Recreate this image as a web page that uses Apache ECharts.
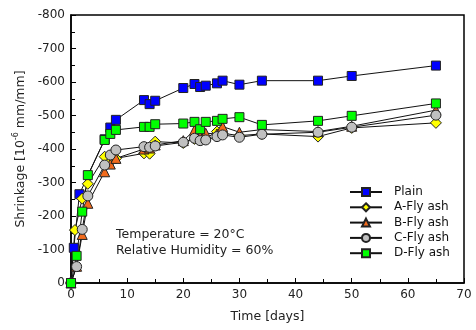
<!DOCTYPE html>
<html><head><meta charset="utf-8">
<script src="https://cdn.jsdelivr.net/npm/echarts@6/dist/echarts.min.js"></script>
<style>html,body{margin:0;padding:0;background:#fff}#c{width:476px;height:330px}</style>
</head><body><div id="c"></div>
<script>
const seriesNames = ['Plain', 'A-Fly ash', 'B-Fly ash', 'C-Fly ash', 'D-Fly ash'];
const plainDays = [0, 0.5, 1.5, 6, 7, 8, 13, 14, 15, 20, 22, 23, 24, 26, 27, 30, 34, 44, 50, 65];
const plainVals = [0, -105, -265, -429, -464, -487, -546, -534, -544, -582, -594, -585, -589, -596, -604, -592, -604, -604, -618, -649];
const ashDays = [0, 1, 2, 3, 6, 7, 8, 13, 14, 15, 20, 22, 23, 24, 26, 27, 30, 34, 44, 50, 65];
const aDays = [0, 0.7, 2, 3, 6, 7, 8, 13, 14, 15, 20, 22, 23, 24, 26, 27, 30, 34, 44, 50, 65];
const aVals = [0, -158, -252, -296, -377, -362, -372, -387, -386, -422, -418, -430, -437, -432, -452, -447, -440, -445, -437, -463, -478];
const bVals = [0, -50, -145, -238, -332, -355, -372, -400, -403, -412, -425, -456, -437, -447, -445, -467, -450, -458, -452, -468, -516];
const cVals = [0, -49, -160, -260, -352, -382, -397, -407, -405, -409, -420, -432, -425, -427, -437, -442, -435, -444, -450, -465, -501];
const dVals = [0, -81, -213, -322, -427, -445, -457, -466, -466, -474, -476, -481, -459, -481, -484, -490, -495, -472, -484, -499, -536];
const xTicks = [0, 10, 20, 30, 40, 50, 60, 70];
const yTicks = [-800, -700, -600, -500, -400, -300, -200, -100, 0];

const pair = (xs, ys) => xs.map((x, i) => [x, ys[i]]);
const FONT = 'DejaVu Sans';
const styles = [
  {sym: 'rect', color: '#0000FF', size: 9},
  {sym: 'diamond', color: '#FFFF00', size: 11},
  {sym: 'triangle', color: '#F26B1D', size: 10},
  {sym: 'circle', color: '#C0C0C0', size: 10},
  {sym: 'rect', color: '#00FF00', size: 9}
];
const datasets = [pair(plainDays, plainVals), pair(aDays, aVals), pair(ashDays, bVals), pair(ashDays, cVals), pair(ashDays, dVals)];

const chart = echarts.init(document.getElementById('c'));
chart.setOption({
  animation: false,
  grid: {left: 71, right: 12, top: 15, bottom: 47, show: true, borderColor: '#000', borderWidth: 1.5, backgroundColor: 'transparent'},
  xAxis: {
    type: 'value', min: xTicks[0], max: xTicks[xTicks.length - 1], interval: 10,
    name: 'Time [days]', nameLocation: 'middle', nameGap: 27,
    nameTextStyle: {fontFamily: FONT, fontSize: 12.5, color: '#222'},
    axisLine: {show: true, lineStyle: {color: '#000', width: 1.5}},
    axisTick: {show: true, inside: true, length: 5, lineStyle: {color: '#000'}},
    minorTick: {show: true, splitNumber: 2, length: 4, lineStyle: {color: '#000'}},
    axisLabel: {fontFamily: FONT, fontSize: 12, color: '#222', margin: 6},
    splitLine: {show: false}
  },
  yAxis: {
    type: 'value', min: yTicks[0], max: yTicks[yTicks.length - 1], interval: 100, inverse: true,
    name: 'Shrinkage [10{sup|-6} mm/mm]', nameLocation: 'middle', nameGap: 42, nameRotate: 90,
    nameTextStyle: {fontFamily: FONT, fontSize: 12.5, color: '#222', rich: {sup: {fontFamily: FONT, fontSize: 8, verticalAlign: 'top', color: '#222', padding: [0, 0, 8, 0]}}},
    axisLine: {show: true, lineStyle: {color: '#000', width: 1.5}},
    axisTick: {show: true, inside: true, length: 5, lineStyle: {color: '#000'}},
    minorTick: {show: true, splitNumber: 2, length: 4, lineStyle: {color: '#000'}},
    axisLabel: {fontFamily: FONT, fontSize: 12, color: '#222', margin: 6},
    splitLine: {show: false}
  },
  legend: {
    orient: 'vertical', left: 349, top: 186, itemWidth: 32, itemHeight: 10, itemGap: 3.3, padding: 0,
    textStyle: {fontFamily: FONT, fontSize: 12, lineHeight: 12, color: '#111', padding: [0, 0, 0, 7]},
    data: seriesNames
  },
  graphic: [
    {type: 'text', left: 116, top: 228, style: {text: 'Temperature = 20°C', font: '12.5px "DejaVu Sans"', fill: '#222'}},
    {type: 'text', left: 116, top: 244, style: {text: 'Relative Humidity = 60%', font: '12.5px "DejaVu Sans"', fill: '#222'}}
  ],
  series: seriesNames.map((n, i) => ({
    name: n, type: 'line', data: datasets[i],
    symbol: styles[i].sym, symbolSize: styles[i].size,
    lineStyle: {color: '#111', width: 1},
    itemStyle: {color: styles[i].color, borderColor: '#222', borderWidth: 1},
    emphasis: {disabled: true}
  }))
});
</script></body></html>
